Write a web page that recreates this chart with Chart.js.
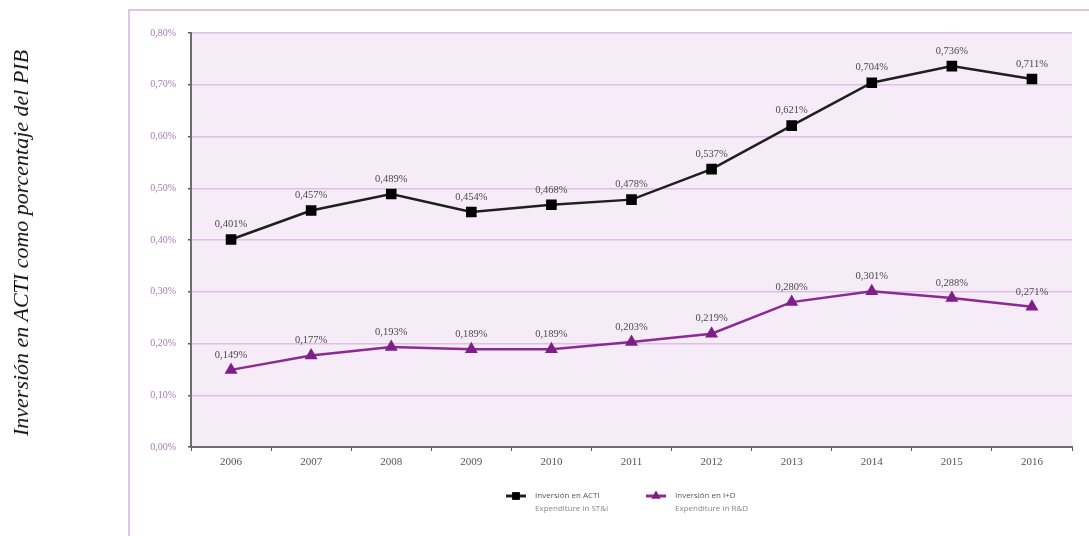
<!DOCTYPE html>
<html>
<head>
<meta charset="utf-8">
<script src="https://cdn.jsdelivr.net/npm/chart.js@4.4.0/dist/chart.umd.min.js"></script>
<style>
  html, body { margin: 0; padding: 0; background: #fff; }
  #wrap { position: relative; width: 1089px; height: 536px; }
  #chart { position: absolute; left: 0; top: 0; }
  #ytitle {
    position: absolute; left: 21px; top: 243px;
    transform: translate(-50%, -50%) rotate(-90deg);
    white-space: nowrap;
    font-family: 'Liberation Serif', 'DejaVu Serif', serif;
    font-style: italic; font-size: 22px; color: #111;
  }
</style>
</head>
<body>
<div id="wrap">
  <canvas id="chart" width="1089" height="536"></canvas>
  <div id="ytitle">Inversión en ACTI como porcentaje del PIB</div>
</div>
<script>
const years = ['2006', '2007', '2008', '2009', '2010', '2011', '2012', '2013', '2014', '2015', '2016'];
const actiValues = [0.401, 0.457, 0.489, 0.454, 0.468, 0.478, 0.537, 0.621, 0.704, 0.736, 0.711];
const idValues = [0.149, 0.177, 0.193, 0.189, 0.189, 0.203, 0.219, 0.280, 0.301, 0.288, 0.271];
const seriesNames = ['Inversión en ACTI', 'Inversión en I+D'];
const seriesNamesEn = ['Expenditure in ST&I', 'Expenditure in R&D'];

const serif = "'Liberation Serif', 'DejaVu Serif', serif";
const pct = (v, digits) => v.toFixed(digits).replace('.', ',') + '%';

// lavender plot background + outer frame
const backdrop = {
  id: 'backdrop',
  beforeDraw(chart) {
    const { ctx, chartArea: a } = chart;
    ctx.save();
    ctx.fillStyle = '#f6ecf8';
    ctx.fillRect(a.left, a.top, a.right - a.left, a.bottom - a.top);
    ctx.strokeStyle = '#dcc6e2';
    ctx.lineWidth = 2;
    ctx.beginPath();
    ctx.moveTo(1089, 10);
    ctx.lineTo(129, 10);
    ctx.lineTo(129, 536);
    ctx.stroke();
    ctx.restore();
  }
};

// value labels above every point
const valueLabels = {
  id: 'valueLabels',
  afterDatasetsDraw(chart) {
    const { ctx } = chart;
    ctx.save();
    ctx.font = '10.5px ' + serif;
    ctx.fillStyle = '#4a4a4a';
    ctx.textAlign = 'center';
    ctx.textBaseline = 'middle';
    chart.data.datasets.forEach((ds, i) => {
      chart.getDatasetMeta(i).data.forEach((pt, j) => {
        ctx.fillText(pct(ds.data[j], 3), pt.x, pt.y - 15);
      });
    });
    ctx.restore();
  }
};

// two-line legend under the x axis
const legendBlock = {
  id: 'legendBlock',
  afterDraw(chart) {
    const { ctx } = chart;
    const starts = [516, 656];
    ctx.save();
    chart.data.datasets.forEach((ds, i) => {
      const cx = starts[i], cy = 496;
      ctx.strokeStyle = ds.borderColor;
      ctx.lineWidth = 3;
      ctx.beginPath();
      ctx.moveTo(cx - 10, cy);
      ctx.lineTo(cx + 10, cy);
      ctx.stroke();
      ctx.fillStyle = ds.pointBackgroundColor;
      Chart.helpers.drawPoint(ctx, { pointStyle: ds.pointStyle, radius: 5.5, rotation: 0, borderWidth: 0 }, cx, cy);
      ctx.font = "8px 'Open Sans', sans-serif";
      ctx.textAlign = 'left';
      ctx.textBaseline = 'middle';
      ctx.fillStyle = '#555';
      ctx.fillText(seriesNames[i], cx + 19, cy);
      ctx.fillStyle = '#888';
      ctx.fillText(seriesNamesEn[i], cx + 19, cy + 13);
    });
    ctx.restore();
  }
};

new Chart(document.getElementById('chart'), {
  type: 'line',
  data: {
    labels: years,
    datasets: [
      {
        label: seriesNames[0],
        data: actiValues,
        borderColor: '#1f1f1f',
        borderWidth: 2.5,
        pointStyle: 'rect',
        pointRadius: 7.5,
        pointBackgroundColor: '#000',
        pointBorderWidth: 0,
        tension: 0
      },
      {
        label: seriesNames[1],
        data: idValues,
        borderColor: '#8a2a92',
        borderWidth: 2.5,
        pointStyle: 'triangle',
        pointRadius: 7.5,
        pointBackgroundColor: '#7e1f88',
        pointBorderWidth: 0,
        tension: 0
      }
    ]
  },
  options: {
    responsive: false,
    animation: false,
    layout: { padding: { left: 130, top: 33, right: 17, bottom: 0 } },
    plugins: {
      legend: { display: false },
      tooltip: { enabled: false }
    },
    scales: {
      x: {
        offset: true,
        afterFit(scale) { scale.height = 89; },
        border: { color: '#6e6e6e', width: 2 },
        grid: { drawOnChartArea: false, drawTicks: true, tickLength: 4, tickColor: '#555', offset: true },
        ticks: { color: '#555', font: { family: serif, size: 11 }, padding: 5, maxRotation: 0 }
      },
      y: {
        min: 0,
        max: 0.8,
        afterFit(scale) { scale.width = 61; },
        border: { color: '#6e6e6e', width: 2 },
        grid: { color: '#dcbfe2', lineWidth: 1.5, tickLength: 3, tickColor: '#555' },
        ticks: {
          stepSize: 0.1,
          color: '#a77bb6',
          padding: 12,
          font: { family: serif, size: 10 },
          callback: v => pct(v, 2)
        }
      }
    }
  },
  plugins: [backdrop, valueLabels, legendBlock]
});
</script>
</body>
</html>
